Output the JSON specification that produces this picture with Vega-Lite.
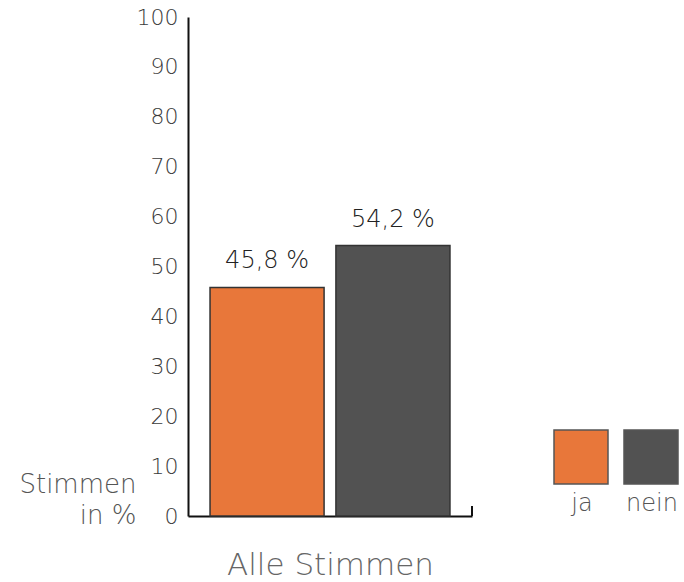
{
  "$schema": "https://vega.github.io/schema/vega-lite/v6.json",
  "width": 284,
  "height": 499,
  "autosize": {"type": "none"},
  "padding": {"left": 188, "top": 17, "right": 212, "bottom": 66},
  "config": {"view": {"stroke": null}, "font": "DejaVu Sans"},
  "layer": [
    {
      "data": {"values": [
        {"antwort": "ja", "wert": 45.8, "label": "45,8 %"},
        {"antwort": "nein", "wert": 54.2, "label": "54,2 %"}
      ]},
      "layer": [
        {
          "mark": {"type": "bar", "stroke": "#333", "strokeWidth": 1.5},
          "encoding": {
            "x": {"field": "antwort", "type": "nominal", "sort": ["ja", "nein"],
              "scale": {"paddingInner": 0.094, "paddingOuter": 0.175},
              "axis": {"title": "Alle Stimmen", "labels": false, "ticks": false, "domainColor": "#111", "domainWidth": 2,
                "titleFontSize": 31, "titleColor": "#666", "titleFontWeight": 200, "titleY": 58, "titleBaseline": "alphabetic"}},
            "y": {"field": "wert", "type": "quantitative", "scale": {"domain": [0, 100]},
              "axis": {"title": ["Stimmen", "in %"], "titleAngle": 0, "titleAlign": "right", "titleBaseline": "alphabetic",
                "titleX": -52, "titleY": 475, "titleFontSize": 26, "titleColor": "#555", "titleFontWeight": 200, "titleLineHeight": 31,
                "values": [0, 10, 20, 30, 40, 50, 60, 70, 80, 90, 100], "ticks": false, "grid": false,
                "domainColor": "#111", "domainWidth": 2, "labelFontSize": 22, "labelColor": "#3a3a3a", "labelFontWeight": 200,
                "labelPadding": 10, "labelFlush": false}},
            "color": {"field": "antwort", "type": "nominal",
              "scale": {"domain": ["ja", "nein"], "range": ["#E8773A", "#525252"]},
              "legend": {"orient": "none", "legendX": 365, "legendY": 412, "direction": "horizontal", "title": null,
                "symbolType": "square", "symbolSize": 2916, "symbolStrokeColor": "#555", "symbolStrokeWidth": 1.5, "symbolOpacity": 1,
                "columnPadding": 10, "labelOffset": -27, "labelAlign": "center", "labelFontSize": 24, "labelColor": "#555",
                "labelFontWeight": 200, "labelBaseline": "alphabetic",
                "encode": {"labels": {"update": {"dy": {"value": 54}}}}}}
          }
        },
        {
          "mark": {"type": "text", "dy": -19, "fontSize": 24, "color": "#222", "baseline": "alphabetic", "fontWeight": 200},
          "encoding": {
            "x": {"field": "antwort", "type": "nominal", "sort": ["ja", "nein"]},
            "y": {"field": "wert", "type": "quantitative"},
            "text": {"field": "label"}
          }
        }
      ]
    },
    {
      "data": {"values": [{"pos": 1, "lo": 0, "hi": 2}]},
      "mark": {"type": "rule", "color": "#111", "strokeWidth": 2},
      "encoding": {
        "x": {"field": "pos", "type": "quantitative", "scale": {"domain": [0, 1]}, "axis": null},
        "y": {"field": "lo", "type": "quantitative", "scale": {"domain": [0, 100]}},
        "y2": {"field": "hi"}
      }
    }
  ],
  "resolve": {"scale": {"x": "independent"}}
}
